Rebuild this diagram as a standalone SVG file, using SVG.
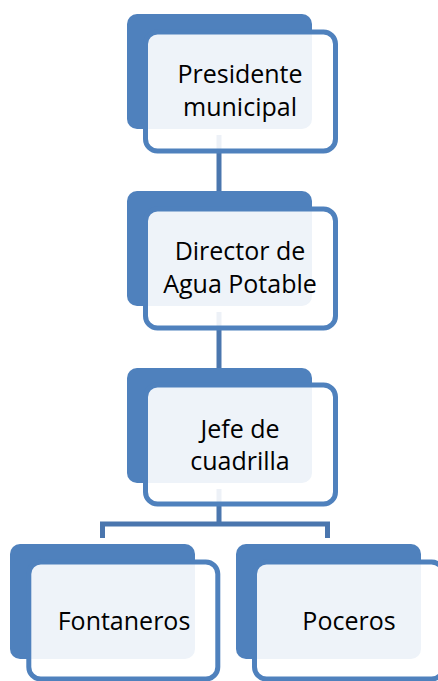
<svg xmlns="http://www.w3.org/2000/svg" width="438" height="681" viewBox="0 0 438 681">
<style>
.back{fill:#4F81BD;}
.front{fill:#FFFFFF;fill-opacity:0.9;stroke:#4F81BD;stroke-width:5;}
.conn{fill:none;stroke:#4A76AE;stroke-width:5;}
text{font-family:"Open Sans","Noto Sans",sans-serif;font-size:25px;fill:#000;text-anchor:middle;}
</style>
<rect width="438" height="681" fill="#FFFFFF"/>
<g id="backs">
<rect class="back" x="127" y="14" width="185" height="115" rx="10"/>
<rect class="back" x="127" y="191" width="185" height="115" rx="10"/>
<rect class="back" x="127" y="368" width="185" height="115" rx="10"/>
<rect class="back" x="10" y="544" width="185" height="115" rx="10"/>
<rect class="back" x="236" y="544" width="185" height="115" rx="10"/>
</g>
<g id="connectors">
<path class="conn" d="M219,135 V191"/>
<path class="conn" d="M219,312 V368"/>
<path class="conn" d="M219,489 V524 M100,524 H330 M102.5,524 V538 M327.5,524 V538"/>
</g>
<g id="node-presidente">
<rect class="front" x="145.5" y="32" width="190" height="119" rx="12"/>
<text x="240" y="83">Presidente</text>
<text x="240" y="116">municipal</text>
</g>
<g id="node-director">
<rect class="front" x="145.5" y="209" width="190" height="119" rx="12"/>
<text x="240" y="260">Director de</text>
<text x="240" y="293">Agua Potable</text>
</g>
<g id="node-jefe">
<rect class="front" x="145.5" y="385" width="190" height="119" rx="12"/>
<text x="240" y="438">Jefe de</text>
<text x="240" y="470">cuadrilla</text>
</g>
<g id="node-fontaneros">
<rect class="front" x="28.8" y="562" width="189" height="117" rx="12"/>
<text x="124" y="630">Fontaneros</text>
</g>
<g id="node-poceros">
<rect class="front" x="254.5" y="562" width="189" height="117" rx="12"/>
<text x="349" y="630">Poceros</text>
</g>
</svg>
